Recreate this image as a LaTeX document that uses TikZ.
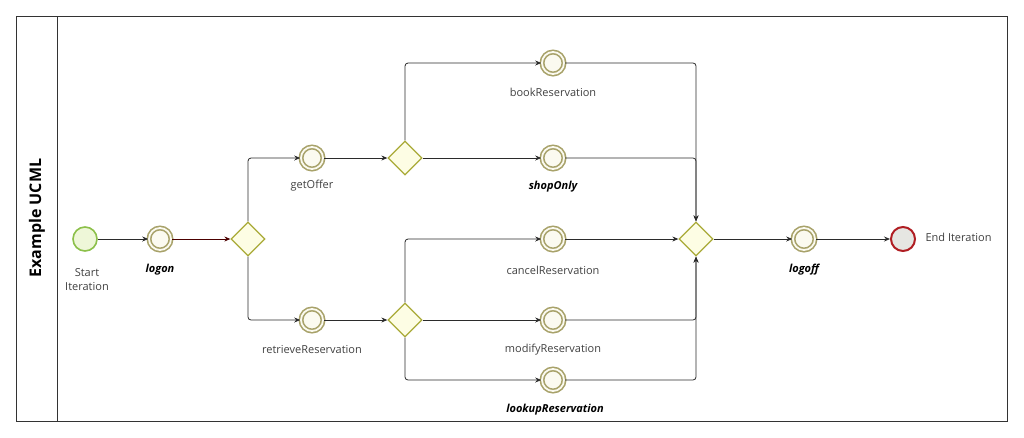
\documentclass[tikz,border=0pt]{standalone}
\usepackage{fontspec}
\setmainfont{Open Sans}
\usetikzlibrary{shapes.geometric,arrows.meta}
\definecolor{startstroke}{HTML}{8CC04A}
\definecolor{startfill}{HTML}{EEF7D8}
\definecolor{endstroke}{HTML}{B01E23}
\definecolor{endfill}{HTML}{E6E6E2}
\definecolor{evstroke}{HTML}{A8A26A}
\definecolor{evfill}{HTML}{FBFAF0}
\definecolor{gwstroke}{HTML}{A9AA37}
\definecolor{gwfill}{HTML}{FDFDE4}
\definecolor{linecol}{HTML}{2B2B2B}
\definecolor{txt}{HTML}{404040}
\tikzset{
  startev/.style={circle,draw=startstroke,fill=startfill,line width=1.6pt,minimum size=24pt,inner sep=0pt},
  endev/.style={circle,draw=endstroke,fill=endfill,line width=2pt,minimum size=24pt,inner sep=0pt},
  midev/.style={circle,draw=evstroke,double=evfill,double distance=1.8pt,line width=1.6pt,fill=evfill,minimum size=22pt,inner sep=0pt},
  gw/.style={diamond,draw=gwstroke,fill=gwfill,line width=1.3pt,minimum width=34pt,minimum height=34pt,inner sep=0pt,aspect=1},
  lbl/.style={font=\fontsize{11}{13.5}\selectfont,text=txt,align=center},
  blbl/.style={font=\fontsize{11}{13.5}\selectfont\bfseries\itshape,text=black,align=center},
  flow/.style={draw=linecol,line width=0.8pt,-{Stealth[length=6pt,width=5pt]},rounded corners=3pt}
}
\begin{document}
\begin{tikzpicture}[x=1pt,y=-1pt]
\useasboundingbox (0,0) rectangle (1024,437);
\draw[line width=0.8pt,draw=black!80] (16,16) rectangle (1007,421);
\draw[line width=0.8pt,draw=black!80] (57,16) -- (57,421);
\node[rotate=90,font=\fontsize{16}{19}\selectfont\bfseries] (title) at (37,218) {Example UCML};

\node[startev] (start) at (85,239) {};
\node[lbl,anchor=north] (startl) at (87,265) {Start\\Iteration};
\node[midev] (logon) at (160,239) {};
\node[blbl] (logonl) at (160,270) {logon};
\node[gw] (g1) at (248,239) {};
\node[midev] (getoffer) at (312,158) {};
\node[lbl] (getofferl) at (312,186) {getOffer};
\node[gw] (g2) at (405,158) {};
\node[midev] (book) at (553,63) {};
\node[lbl] (bookl) at (553,92) {bookReservation};
\node[midev] (shop) at (553,158) {};
\node[blbl] (shopl) at (553,187) {shopOnly};
\node[midev] (retr) at (312,320) {};
\node[lbl] (retrl) at (312,350) {retrieveReservation};
\node[gw] (g3) at (405,320) {};
\node[midev] (cancel) at (553,239) {};
\node[lbl] (cancell) at (553,270) {cancelReservation};
\node[midev] (modify) at (553,320) {};
\node[lbl] (modifyl) at (553,350) {modifyReservation};
\node[midev] (lookup) at (553,380) {};
\node[blbl] (lookupl) at (555,410) {lookupReservation};
\node[gw] (g4) at (696,239) {};
\node[midev] (logoff) at (804,239) {};
\node[blbl] (logoffl) at (804,270) {logoff};
\node[endev] (end) at (903,239) {};
\node[lbl,anchor=west] (endl) at (922,237) {End Iteration};

\draw[flow] (start) -- (logon);
\draw[flow,draw=black!70!red] (logon) -- (g1);
\draw[flow] (g1.north) |- (getoffer);
\draw[flow] (g1.south) |- (retr);
\draw[flow] (getoffer) -- (g2);
\draw[flow] (g2.north) |- (book);
\draw[flow] (g2) -- (shop);
\draw[flow] (book) -| (g4.north);
\draw[flow] (shop) -| (g4.north);
\draw[flow] (retr) -- (g3);
\draw[flow] (g3.north) |- (cancel);
\draw[flow] (g3) -- (modify);
\draw[flow] (g3.south) |- (lookup);
\draw[flow] (cancel) -- (g4);
\draw[flow] (modify) -| (g4.south);
\draw[flow] (lookup) -| (g4.south);
\draw[flow] (g4) -- (logoff);
\draw[flow] (logoff) -- (end);
\end{tikzpicture}
\end{document}
